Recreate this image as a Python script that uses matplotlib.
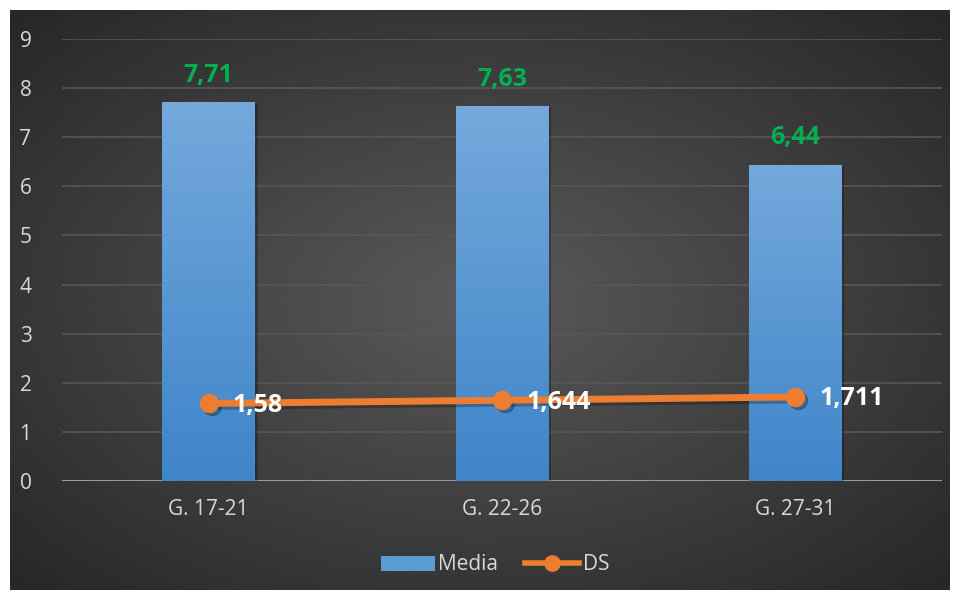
import numpy as np
import matplotlib
matplotlib.use("Agg")
import matplotlib.pyplot as plt
from matplotlib.lines import Line2D
from matplotlib.patches import Patch
from matplotlib.colors import LinearSegmentedColormap

categories = ["G. 17-21", "G. 22-26", "G. 27-31"]
media = [7.71, 7.63, 6.44]
ds = [1.58, 1.644, 1.711]
media_labels = ["7,71", "7,63", "6,44"]
ds_labels = ["1,58", "1,644", "1,711"]
yticks = list(range(0, 10))

plt.rcParams['font.family'] = ['Open Sans', 'DejaVu Sans']

W, H = 961, 597
fig = plt.figure(figsize=(W / 100, H / 100), dpi=100)
fig.patch.set_facecolor("white")

# background panel with radial gradient
bg = fig.add_axes([10 / W, 1 - 590 / H, 940 / W, 580 / H])
bg.set_axis_off()
yy, xx = np.mgrid[0:1:300j, 0:1:500j]
r = np.sqrt(((xx - 0.5) / 0.75) ** 2 + ((yy - 0.5) / 0.75) ** 2)
r = np.clip(r / 0.95, 0, 1)
c0 = np.array([0x5a, 0x5a, 0x5a]) / 255
c1 = np.array([0x26, 0x26, 0x26]) / 255
img = c0[None, None, :] * (1 - r[..., None]) + c1[None, None, :] * r[..., None]
bg.imshow(img, aspect="auto", extent=[0, 1, 0, 1], origin="lower")
bg.set_xlim(0, 1)
bg.set_ylim(0, 1)

# main axes
x0, x1 = 62, 942
ytop, ybot = 39, 481
ax = fig.add_axes([x0 / W, 1 - ybot / H, (x1 - x0) / W, (ybot - ytop) / H])
ax.patch.set_alpha(0)
ax.set_xlim(-0.5, 2.5)
ax.set_ylim(0, 9)
ax.set_yticks(yticks)
ax.yaxis.grid(True, color="#575757", lw=1.2)
ax.set_axisbelow(True)
for s in ax.spines.values():
    s.set_visible(False)
ax.axhline(0, color="#9a9a9a", lw=1.5, zorder=2)
ax.tick_params(axis="both", length=0, colors="#d9d9d9", labelsize=15)
ax.tick_params(axis="y", pad=22)
ax.tick_params(axis="x", pad=13)
ax.set_xticks(range(len(categories)))
ax.set_xticklabels(categories)

xs = np.arange(len(categories))
bw = 0.317
bars = ax.bar(xs, media, width=bw, color="#5b9bd5", zorder=3)
grad = np.linspace(0, 1, 256)[:, None]
cmap = LinearSegmentedColormap.from_list("b", ["#3f85c9", "#74a9dc"])
for b in bars:
    bx, by = b.get_x(), b.get_y()
    w, h = b.get_width(), b.get_height()
    ax.add_patch(plt.Rectangle((bx + 0.008, by), w, h - 0.04, color="black", alpha=0.25, zorder=2.5, lw=0))
    im = ax.imshow(grad, cmap=cmap, extent=[bx, bx + w, by, by + h], origin="lower",
                   aspect="auto", zorder=3.1)
    im.set_clip_path(b)
ax.set_xlim(-0.5, 2.5)
ax.set_ylim(0, 9)

for x, v, lab in zip(xs, media, media_labels):
    ax.text(x, v + 0.55, lab, ha="center", va="center", color="#00b050",
            fontsize=18, fontweight="bold", zorder=6)

ax.plot(xs + 0.01, np.array(ds) - 0.06, color="black", alpha=0.25, lw=5, zorder=3.5,
        marker="o", ms=13, solid_capstyle="round")
ax.plot(xs, ds, color="#ed7d31", lw=5, marker="o", ms=13, zorder=4)
for x, v, lab in zip(xs, ds, ds_labels):
    ax.text(x + 0.082, v - 0.04, lab, ha="left", va="center", color="white",
            fontsize=18, fontweight="bold", zorder=6)

handles = [Patch(facecolor="#5b9bd5", edgecolor="none"),
           Line2D([0], [0], color="#ed7d31", lw=4, marker="o", ms=11)]
leg = fig.legend(handles, ["Media", "DS"], loc="center", bbox_to_anchor=(495 / W, 1 - 565 / H),
                 ncol=2, frameon=False, fontsize=15, labelcolor="#d9d9d9",
                 handlelength=2.6, handletextpad=0.15, columnspacing=1.3)

fig.savefig("out.png", dpi=100, facecolor="white")
